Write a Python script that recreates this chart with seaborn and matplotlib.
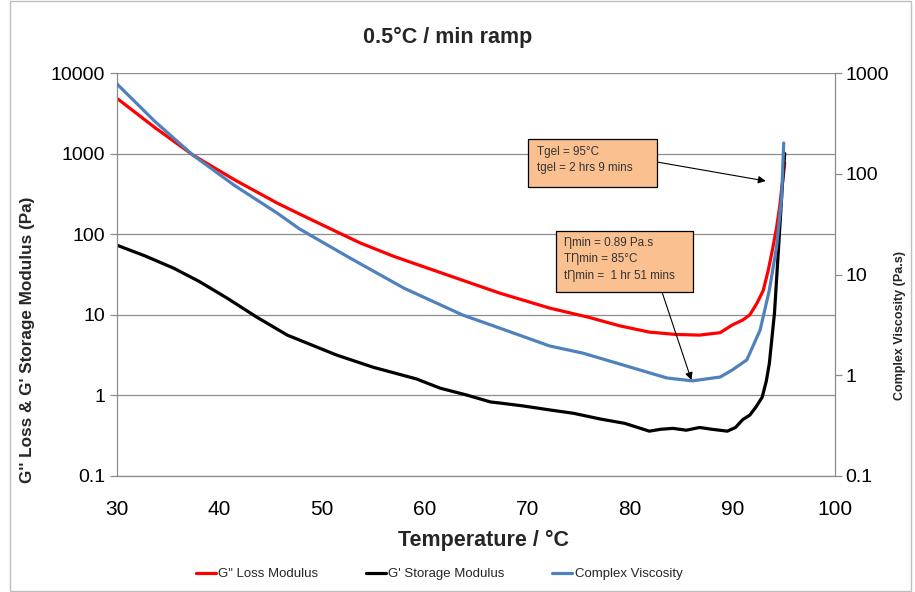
import matplotlib
matplotlib.use("Agg")
import matplotlib.pyplot as plt
from matplotlib.patches import Rectangle
import seaborn as sns
import pandas as pd

# ---- data ----
T_loss = [30, 33.7, 37.4, 41.5, 45.6, 47.8, 51.7, 53.7, 57.0, 60.8, 64.0, 67.3,
          72.2, 76.0, 79.0, 81.9, 84.5, 86.8, 88.8, 90.0, 91.0, 91.7, 92.4,
          93.0, 93.5, 93.9, 94.3, 94.6, 95.1]
G_loss = [4850, 2100, 960, 470, 244, 178, 103, 78, 53, 36, 26, 18.6,
          12.1, 9.3, 7.3, 6.1, 5.7, 5.6, 6.0, 7.5, 8.6, 10, 14,
          20, 36, 64, 120, 217, 764]

T_stor = [30, 32.7, 35.5, 38.0, 40.7, 43.6, 46.6, 51.4, 55.0, 59.2, 61.5,
          64.1, 66.4, 67.3, 69.6, 72.2, 74.5, 77.1, 79.5, 81.9,
          83.0, 84.2, 85.5, 86.8, 88.0, 89.5, 90.3, 91.0, 91.7, 92.3, 92.9,
          93.3, 93.6, 94.1, 94.5, 94.9, 95.1]
G_stor = [73, 54, 38, 26, 16.2, 9.4, 5.6, 3.17, 2.23, 1.6, 1.23,
          1.01, 0.83, 0.805, 0.74, 0.66, 0.6, 0.51, 0.45, 0.36,
          0.38, 0.39, 0.37, 0.40, 0.38, 0.36, 0.40, 0.50, 0.57, 0.72, 0.95,
          1.5, 2.5, 10.5, 69, 470, 1000]

T_visc = [30, 33.7, 37.4, 41.5, 45.6, 47.8, 52.7, 58.0, 63.7, 67.3, 72.2,
          75.4, 79.5, 83.6, 86.1, 88.8, 90.0, 91.4, 91.7, 92.7, 93.6, 94.3,
          94.8, 95.0]
Visc = [778, 330, 153, 76, 40.8, 28.3, 14.6, 7.3, 3.96, 2.94, 1.95,
        1.66, 1.25, 0.94, 0.88, 0.96, 1.13, 1.42, 1.66, 2.81, 7.0, 18.7,
        58.7, 202]

x_ticks = [30, 40, 50, 60, 70, 80, 90, 100]
left_ticks = [0.1, 1, 10, 100, 1000, 10000]
left_labels = ["0.1", "1", "10", "100", "1000", "10000"]
right_ticks = [0.1, 1, 10, 100, 1000]
right_labels = ["0.1", "1", "10", "100", "1000"]

title = "0.5°C / min ramp"
xlabel = "Temperature / °C"
ylabel_left = "G'' Loss & G' Storage Modulus (Pa)"
ylabel_right = "Complex Viscosity (Pa.s)"
lab_loss = 'G" Loss Modulus'
lab_stor = "G' Storage Modulus"
lab_visc = "Complex Viscosity"
box1_lines = ["Tgel = 95°C", "tgel = 2 hrs 9 mins"]
box2_lines = ["Ƞmin = 0.89 Pa.s", "TȠmin = 85°C", "tȠmin =  1 hr 51 mins"]

df_loss = pd.DataFrame({"T": T_loss, "v": G_loss})
df_stor = pd.DataFrame({"T": T_stor, "v": G_stor})
df_visc = pd.DataFrame({"T": T_visc, "v": Visc})

sns.set_theme(style="white")
plt.rcParams["font.family"] = ["Liberation Sans", "DejaVu Sans"]

W, H = 915, 592
fig = plt.figure(figsize=(W / 100, H / 100), dpi=100)
fig.patch.set_facecolor("white")

def fx(px):
    return px / W

def fy(py):
    return 1 - py / H

ax = fig.add_axes([fx(117), fy(476), fx(835) - fx(117), fy(73) - fy(476)])
ax2 = ax.twinx()

RED = "#FF0000"
BLUE = "#4F81BD"
lw = 2.3
sns.lineplot(data=df_loss, x="T", y="v", ax=ax, color=RED, lw=lw, label=lab_loss,
             sort=False, estimator=None)
sns.lineplot(data=df_stor, x="T", y="v", ax=ax, color="black", lw=lw, label=lab_stor,
             sort=False, estimator=None)
sns.lineplot(data=df_visc, x="T", y="v", ax=ax2, color=BLUE, lw=lw, label=lab_visc,
             sort=False, estimator=None)

GRID = "#8c8c8c"
ax.set_yscale("log")
ax2.set_yscale("log")
ax.set_xlim(30, 100)
ax.set_ylim(0.1, 10000)
ax2.set_ylim(0.1, 1000)
ax.set_xticks(x_ticks)
ax.set_xticklabels([str(t) for t in x_ticks])
ax.set_yticks(left_ticks)
ax.set_yticklabels(left_labels)
ax.yaxis.set_minor_locator(matplotlib.ticker.NullLocator())
ax2.set_yticks(right_ticks)
ax2.set_yticklabels(right_labels)
ax2.yaxis.set_minor_locator(matplotlib.ticker.NullLocator())
ax.set_xlabel("")
ax.set_ylabel("")
ax2.set_ylabel("")

ax.grid(axis="y", color=GRID, lw=0.9)
ax.grid(axis="x", visible=False)
ax.set_axisbelow(True)

ax.spines["top"].set_visible(False)
ax.spines["right"].set_visible(False)
ax.spines["left"].set_color(GRID)
ax.spines["bottom"].set_color(GRID)
for s in ["top", "left", "bottom"]:
    ax2.spines[s].set_visible(False)
ax2.spines["right"].set_color(GRID)
for s in ax.spines.values():
    s.set_linewidth(0.9)
ax2.spines["right"].set_linewidth(0.9)

ax.tick_params(axis="y", which="major", direction="out", length=5, width=0.9,
               color=GRID, labelsize=14, pad=3.5, labelcolor="black", left=True)
ax.tick_params(axis="x", which="major", length=0, labelsize=15, pad=17,
               labelcolor="black")
ax2.tick_params(axis="y", which="major", direction="out", length=5, width=0.9,
                color=GRID, labelsize=14, pad=2.5, labelcolor="black", right=True)

# legend
for a in (ax, ax2):
    lg = a.get_legend()
    if lg is not None:
        lg.remove()
h1, l1 = ax.get_legend_handles_labels()
h2, l2 = ax2.get_legend_handles_labels()
fig.legend(h1 + h2, l1 + l2, loc="center", bbox_to_anchor=(fx(439), fy(574)),
           ncol=3, frameon=False, handlelength=1.5, handletextpad=0.2,
           columnspacing=3.6, fontsize=9.5)

# texts
fig.text(fx(448), fy(37), title, ha="center", va="center", fontsize=15.5,
         fontweight="bold")
fig.text(fx(484), fy(540), xlabel, ha="center", va="center", fontsize=15.5,
         fontweight="bold")
fig.text(fx(28), fy(340), ylabel_left, ha="center", va="center", rotation=90,
         fontsize=12.3, fontweight="bold")
fig.text(fx(900), fy(325), ylabel_right, ha="center", va="center", rotation=90,
         fontsize=9, fontweight="bold")

# annotation boxes
BOXC = "#FAC090"
fig.patches.append(Rectangle((fx(528), fy(187)), fx(657) - fx(528), fy(139) - fy(187),
                             transform=fig.transFigure, fc=BOXC, ec="black", lw=0.9,
                             zorder=5))
fig.patches.append(Rectangle((fx(556), fy(292)), fx(693) - fx(556), fy(231) - fy(292),
                             transform=fig.transFigure, fc=BOXC, ec="black", lw=0.9,
                             zorder=5))
for i, line in enumerate(box1_lines):
    fig.text(fx(537), fy(152 + 16 * i), line, ha="left", va="center", fontsize=8.4,
             color="#333333", zorder=6)
for i, line in enumerate(box2_lines):
    fig.text(fx(564), fy(243 + 16.5 * i), line, ha="left", va="center", fontsize=8.4,
             color="#333333", zorder=6)

arrow = dict(arrowstyle="-|>", color="black", lw=0.8, mutation_scale=11,
             shrinkA=0, shrinkB=0)
ax.annotate("", xy=(93.25, 457), xycoords="data", xytext=(fx(657), fy(162)),
            textcoords="figure fraction", arrowprops=arrow, annotation_clip=False)
ax.annotate("", xy=(86.0, 1.55), xycoords="data", xytext=(fx(662), fy(292)),
            textcoords="figure fraction", arrowprops=arrow, annotation_clip=False)

# outer chart frame
fig.patches.append(Rectangle((fx(10), fy(591)), fx(911) - fx(10), fy(0.5) - fy(591),
                             transform=fig.transFigure, fc="none", ec="#bfbfbf", lw=1.0))

fig.savefig("out.png", dpi=100)
